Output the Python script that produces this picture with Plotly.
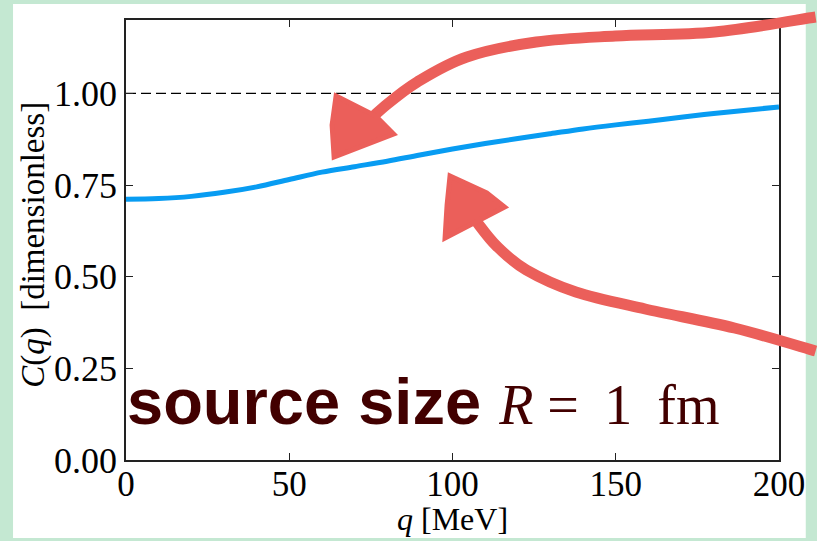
import plotly.graph_objects as go

# ---- data ----
q_mev = [0, 10, 20, 30, 40, 50, 60, 70, 80, 90, 100, 110, 120, 130, 140, 150, 160, 170, 180, 190, 200]
c_q = [0.711, 0.713, 0.719, 0.730, 0.745, 0.765, 0.785, 0.800, 0.815, 0.832, 0.848, 0.863, 0.877, 0.890, 0.903, 0.914, 0.924, 0.935, 0.945, 0.954, 0.963]
ref_x = [0, 200]
ref_y = [1.0, 1.0]
x_ticks = [0, 50, 100, 150, 200]
y_ticks = [0, 0.25, 0.5, 0.75, 1.0]
x_title = "<i>q</i> [MeV]"
y_title = "<i>C</i>(<i>q</i>)  [dimensionless]"

# ---- layout geometry (pixels) ----
W, H = 817, 541
L, R, T, B = 126, 32, 20, 81
PW, PH = W - L - R, H - T - B


def pp(px, py):
    return ((px - L) / PW, (H - B - py) / PH)


def smooth_path(pts):
    P = [pp(*p) for p in pts]
    s = f"M {P[0][0]:.4f},{P[0][1]:.4f}"
    n = len(P)
    for i in range(n - 1):
        p0 = P[i - 1] if i > 0 else P[i]
        p1, p2 = P[i], P[i + 1]
        p3 = P[i + 2] if i + 2 < n else P[i + 1]
        c1 = (p1[0] + (p2[0] - p0[0]) / 6, p1[1] + (p2[1] - p0[1]) / 6)
        c2 = (p2[0] - (p3[0] - p1[0]) / 6, p2[1] - (p3[1] - p1[1]) / 6)
        s += f" C {c1[0]:.4f},{c1[1]:.4f} {c2[0]:.4f},{c2[1]:.4f} {p2[0]:.4f},{p2[1]:.4f}"
    return s


def poly_path(pts):
    P = [pp(*p) for p in pts]
    return "M " + " L ".join(f"{x:.4f},{y:.4f}" for x, y in P) + " Z"


RED = "#eb5f5a"
SERIF = "Liberation Serif"

fig = go.Figure()
fig.add_trace(go.Scatter(x=ref_x, y=ref_y, mode="lines",
                         line=dict(color="black", width=1.4, dash="10px,5px"),
                         hoverinfo="skip", showlegend=False))
fig.add_trace(go.Scatter(x=q_mev, y=c_q, mode="lines", line_shape="spline",
                         line=dict(color="#089cf2", width=5), showlegend=False))

shapes = []
# white panel on green background
x0, y0 = pp(12, 538)
x1, y1 = pp(812, 4)
shapes.append(dict(type="rect", xref="paper", yref="paper", x0=x0, y0=y0, x1=x1, y1=y1,
                   fillcolor="white", line_width=0, layer="below"))

upper_shaft = [(822, 17), (720, 32), (620, 36), (540, 42), (470, 57), (420, 82), (385, 108), (368, 124)]
upper_head = [(338, 96), (378, 116), (396, 134), (336, 157), (334, 125)]
lower_shaft = [(822, 351), (740, 328), (650, 309), (580, 292), (530, 270), (500, 246), (480, 222)]
lower_head = [(453, 176), (490, 193), (508, 207), (448, 238), (450, 205)]

for shaft, head in [(upper_shaft, upper_head), (lower_shaft, lower_head)]:
    shapes.append(dict(type="path", xref="paper", yref="paper", path=smooth_path(shaft),
                       line=dict(color=RED, width=11), fillcolor="rgba(0,0,0,0)", layer="above"))
    shapes.append(dict(type="path", xref="paper", yref="paper", path=poly_path(head),
                       line=dict(color=RED, width=5), fillcolor=RED, layer="above"))

tx, ty = pp(125, 440)
fig.add_annotation(
    x=tx, y=ty, xref="paper", yref="paper", xanchor="left", yanchor="bottom",
    showarrow=False,
    text=("<b>source size</b> <span style='font-family:Liberation Serif;font-size:56px'>"
          "<i>R</i> = &#8201;1 &#8201;fm</span>"),
    font=dict(family="Liberation Sans", size=65, color="#420000"),
)

# axis titles
ax_x, ax_y = pp(456, 519)
fig.add_annotation(x=ax_x, y=ax_y, xref="paper", yref="paper", xanchor="center", yanchor="middle",
                   showarrow=False, text=x_title, font=dict(family=SERIF, size=32, color="black"))
ay_x, ay_y = pp(32, 245)
fig.add_annotation(x=ay_x, y=ay_y, xref="paper", yref="paper", xanchor="center", yanchor="middle",
                   showarrow=False, text=y_title, textangle=-90,
                   font=dict(family=SERIF, size=33, color="black"))

axis_common = dict(showline=True, linecolor="#222", linewidth=1.5, mirror="ticks",
                   ticks="inside", ticklen=7, tickwidth=1.2, tickcolor="#222",
                   showgrid=False, zeroline=False)

fig.update_layout(
    width=W, height=H,
    margin=dict(l=L, r=R, t=T, b=B, pad=0),
    paper_bgcolor="#c4e8d2",
    plot_bgcolor="white",
    shapes=shapes,
    xaxis=dict(range=[0, 200], tickvals=x_ticks, ticktext=[str(v) for v in x_ticks],
               ticklabelstandoff=-8, tickfont=dict(family=SERIF, size=35, color="black"),
               **axis_common),
    yaxis=dict(range=[0, 1.2], tickvals=y_ticks, ticktext=[f"{v:.2f}" for v in y_ticks],
               tickfont=dict(family=SERIF, size=36, color="black"), **axis_common),
)

fig.write_html(
    "out.html", config={"displayModeBar": False},
    post_script=("document.documentElement.style.overflow='hidden';"
                 "document.body.style.margin='0';document.body.style.overflow='hidden';"
                 "window.scrollTo(0,0);"))
